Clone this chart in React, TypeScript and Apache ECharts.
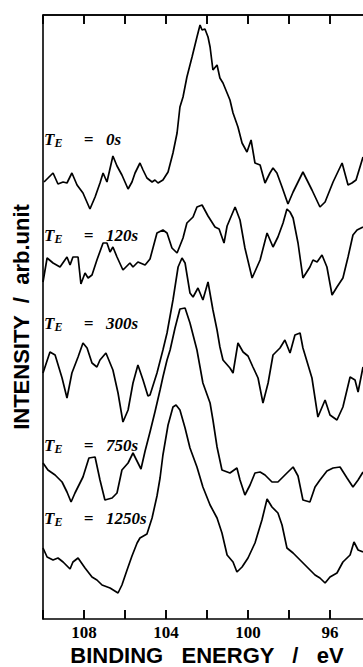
import React, { useEffect, useRef } from "react";
import * as echarts from "echarts";

// Binding energy (eV) / intensity (arb. unit, vertically offset) pairs
const spec0s: [number, number][] = [
  [109.95,437],[109.51,446],[109.27,435],[109.02,437],[108.83,436],[108.59,446],[108.34,434],[108.05,426],
  [107.71,410],[107.46,422],[107.22,436],[107.07,446],[106.88,437],[106.59,463],[106.39,453],[106.15,444],
  [105.85,430],[105.66,437],[105.51,446],[105.27,456],[105.12,449],[104.93,441],[104.68,437],[104.54,439],
  [104.39,436],[104.15,439],[103.90,447],[103.66,466],[103.46,486],[103.32,512],[103.17,522],[102.98,542],
  [102.73,562],[102.49,582],[102.34,594],[102.24,589],[102.10,590],[101.95,582],[101.85,572],[101.71,549],
  [101.51,554],[101.37,541],[101.22,536],[101.02,526],[100.88,519],[100.73,506],[100.49,492],[100.29,476],
  [100.05,467],[99.85,479],[99.66,456],[99.41,454],[99.17,436],[98.93,446],[98.78,451],[98.59,446],
  [98.34,432],[98.05,415],[97.80,427],[97.32,447],[96.88,429],[96.49,412],[96.24,417],[95.85,437],
  [95.41,456],[95.12,434],[94.93,436],[94.73,439],[94.39,462]
];
const spec120s: [number, number][] = [
  [110.00,337],[109.80,361],[109.51,356],[109.17,352],[108.83,362],[108.68,354],[108.54,362],[108.29,362],
  [108.15,335],[107.95,346],[107.80,341],[107.61,344],[107.37,359],[107.07,376],[106.88,376],[106.73,367],
  [106.59,372],[106.39,362],[106.10,349],[105.76,356],[105.61,352],[105.37,357],[105.02,354],[104.78,360],
  [104.44,386],[104.15,389],[103.95,386],[103.71,371],[103.46,366],[103.17,381],[102.98,396],[102.68,402],
  [102.49,412],[102.24,414],[101.95,403],[101.61,392],[101.41,390],[101.17,376],[101.02,393],[100.63,412],
  [100.39,399],[100.15,371],[99.80,341],[99.41,359],[99.07,386],[98.78,372],[98.54,382],[98.29,396],
  [98.10,410],[97.95,407],[97.80,401],[97.56,376],[97.32,341],[96.98,352],[96.83,359],[96.63,357],
  [96.39,364],[96.15,352],[95.90,324],[95.66,332],[95.37,341],[95.12,362],[94.88,384],[94.68,389],[94.39,392]
];
const spec300s: [number, number][] = [
  [110.00,246],[109.66,267],[109.41,264],[109.07,241],[108.83,221],[108.59,246],[108.29,262],[108.05,276],
  [107.85,271],[107.61,256],[107.37,252],[107.22,259],[106.93,266],[106.59,249],[106.34,226],[106.10,197],
  [105.85,209],[105.61,236],[105.37,254],[105.12,239],[104.88,223],[104.78,224],[104.44,246],[104.15,269],
  [103.95,286],[103.66,319],[103.41,352],[103.22,361],[103.07,356],[102.83,326],[102.68,322],[102.44,331],
  [102.20,319],[101.95,337],[101.71,309],[101.51,289],[101.37,272],[101.22,259],[100.88,251],[100.73,246],
  [100.49,276],[100.24,267],[100.00,263],[99.76,252],[99.51,241],[99.27,216],[99.02,236],[98.78,264],
  [98.44,271],[98.20,279],[97.95,266],[97.71,284],[97.46,286],[97.32,271],[96.88,241],[96.59,202],
  [96.24,219],[96.00,204],[95.66,199],[95.37,212],[95.02,242],[94.78,239],[94.63,227],[94.39,252]
];
const spec750s: [number, number][] = [
  [110.00,156],[109.76,149],[109.41,144],[109.07,137],[108.83,127],[108.63,117],[108.44,126],[108.05,142],
  [107.76,161],[107.46,162],[107.22,139],[106.98,119],[106.63,121],[106.39,126],[106.15,149],[105.85,156],
  [105.61,166],[105.22,150],[105.02,168],[104.78,187],[104.54,207],[104.29,229],[104.15,242],[103.95,259],
  [103.80,269],[103.56,291],[103.32,310],[103.07,311],[102.83,296],[102.49,269],[102.34,252],[102.20,236],
  [101.85,216],[101.71,199],[101.51,172],[101.27,149],[100.88,146],[100.54,151],[100.39,139],[100.15,124],
  [99.90,134],[99.66,146],[99.41,147],[99.17,144],[98.83,137],[98.54,137],[98.10,146],[97.80,152],
  [97.56,143],[97.32,119],[96.98,117],[96.73,132],[96.49,139],[96.15,148],[95.85,151],[95.51,152],
  [95.17,141],[94.88,132],[94.63,139],[94.39,147]
];
const spec1250s: [number, number][] = [
  [110.00,71],[109.80,62],[109.51,59],[109.27,61],[109.02,57],[108.68,50],[108.54,57],[108.29,61],
  [107.95,51],[107.61,42],[107.37,39],[107.12,34],[106.73,31],[106.34,26],[106.15,34],[105.90,49],
  [105.66,63],[105.41,76],[105.27,81],[104.93,85],[104.68,101],[104.44,123],[104.29,141],[104.15,164],
  [103.90,194],[103.66,212],[103.51,214],[103.32,209],[103.07,191],[102.83,171],[102.49,152],[102.20,132],
  [101.85,114],[101.51,101],[101.27,86],[101.02,64],[100.73,57],[100.54,47],[100.29,52],[100.00,61],
  [99.66,76],[99.32,99],[99.07,120],[98.83,112],[98.54,106],[98.34,94],[98.10,71],[97.80,66],
  [97.46,59],[97.12,52],[96.73,44],[96.49,41],[96.24,36],[96.00,42],[95.66,46],[95.37,57],
  [95.02,64],[94.83,77],[94.63,69],[94.39,67]
];

const curves = [spec0s, spec120s, spec300s, spec750s, spec1250s];
const etchTimes = ["0s", "120s", "300s", "750s", "1250s"];
const labeledTicks = [108, 104, 100, 96];
const xTitle = "BINDING   ENERGY   /   eV";
const yTitle = "INTENSITY  /  arb.unit";

const X_MIN = 94, X_MAX = 110, X_STEP = 2, Y_MAX = 604;

export default function App() {
  const ref = useRef<HTMLDivElement>(null);
  useEffect(() => {
    if (!ref.current) return;
    const chart = echarts.init(ref.current, undefined, { renderer: "svg" });
    const mkLine = () => ({ show: true, onZero: false, lineStyle: { color: "#000", width: 1.6 } });
    const mkTick = () => ({ show: true, inside: true, length: 9, lineStyle: { color: "#000", width: 1.6 } });
    const labelY = [139, 235, 323, 445, 518];
    const serif = "'Liberation Serif', 'Times New Roman', serif";
    const sans = "'Liberation Sans', Arial, sans-serif";
    const texts: any[] = [
      {
        type: "text", x: 21, y: 317, rotation: Math.PI / 2,
        style: { text: yTitle, fontFamily: sans, fontWeight: "bold", fontSize: 22, fill: "#000", align: "center", verticalAlign: "middle" },
      },
      {
        type: "text", x: 207, y: 655,
        style: { text: xTitle, fontFamily: sans, fontWeight: "bold", fontSize: 22, fill: "#000", align: "center", verticalAlign: "middle" },
      },
      ...etchTimes.map((t, i) => ({
        type: "text", x: 44, y: labelY[i],
        style: {
          text: `{t|T}{e|E}{n|     =   ${t}}`,
          align: "left", verticalAlign: "middle", fill: "#000",
          rich: {
            t: { fontFamily: serif, fontWeight: "bold", fontStyle: "italic", fontSize: 17, fill: "#000" },
            e: { fontFamily: serif, fontWeight: "bold", fontStyle: "italic", fontSize: 12, fill: "#000", padding: [8, 0, 0, 0] },
            n: { fontFamily: serif, fontWeight: "bold", fontStyle: "italic", fontSize: 17, fill: "#000" },
          },
        },
      })),
    ];
    const option: any = {
      animation: false,
      grid: { left: 43, right: -8, top: 15, bottom: 48, outerBoundsMode: "none", containLabel: false },
      xAxis: [
        {
          type: "value", position: "bottom", inverse: true, min: X_MIN, max: X_MAX, interval: X_STEP,
          axisLine: mkLine(), axisTick: mkTick(),
          axisLabel: {
            show: true, margin: 5, color: "#000", fontFamily: serif, fontWeight: "bold", fontSize: 17,
            formatter: (v: number) => (labeledTicks.indexOf(v) >= 0 ? String(v) : ""),
          },
          splitLine: { show: false },
        },
        {
          type: "value", position: "top", inverse: true, min: X_MIN, max: X_MAX, interval: X_STEP,
          axisLine: mkLine(), axisTick: mkTick(),
          axisLabel: { show: true, formatter: () => "" },
          splitLine: { show: false },
        },
      ],
      yAxis: {
        type: "value", min: 0, max: Y_MAX,
        axisLine: mkLine(), axisTick: { show: false }, axisLabel: { show: false }, splitLine: { show: false },
      },
      series: curves.map((c, i) => ({
        type: "line", name: etchTimes[i], data: c,
        showSymbol: false,
        lineStyle: { color: "#000", width: 1.7 },
      })),
      graphic: texts,
    };
    chart.setOption(option);

    // Frame: top border and inward ticks on top and bottom, placed through the axes' own scales
    const px = (v: number) => chart.convertToPixel({ xAxisIndex: 0 }, v) as number;
    const yTop = chart.convertToPixel({ yAxisIndex: 0 }, Y_MAX) as number;
    const yBot = chart.convertToPixel({ yAxisIndex: 0 }, 0) as number;
    const frame: any[] = [];
    if (isFinite(yTop) && isFinite(yBot)) {
      const stroke = { stroke: "#000", lineWidth: 1.6 };
      frame.push({ type: "line", z: 100, silent: true, shape: { x1: px(X_MAX), y1: yTop, x2: px(X_MIN), y2: yTop }, style: stroke });
      for (let v = X_MIN; v <= X_MAX; v += X_STEP) {
        const xv = px(v);
        frame.push({ type: "line", z: 100, silent: true, shape: { x1: xv, y1: yTop, x2: xv, y2: yTop + 9 }, style: stroke });
        frame.push({ type: "line", z: 100, silent: true, shape: { x1: xv, y1: yBot, x2: xv, y2: yBot - 9 }, style: stroke });
      }
      chart.setOption({ graphic: [...texts, ...frame] });
    }
    return () => chart.dispose();
  }, []);
  return <div ref={ref} style={{ position: "fixed", left: 0, top: 0, width: 363, height: 667, background: "#fff" }} />;
}
